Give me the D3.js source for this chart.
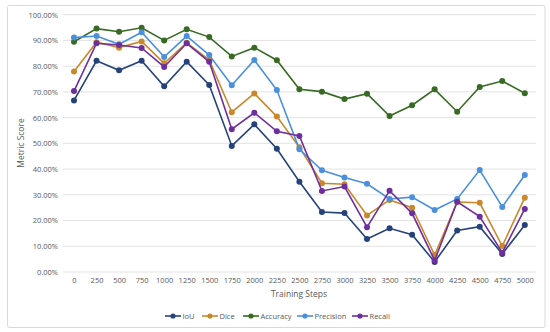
<!DOCTYPE html>
<html><head><meta charset="utf-8">
<script src="https://cdn.jsdelivr.net/npm/d3@7"></script>
<style>body{margin:0;background:#fff}svg{display:block}text{font-family:"Open Sans",Lato,sans-serif}</style>
</head><body><svg id="c" width="550" height="332"></svg>
<script>
const steps = [0,250,500,750,1000,1250,1500,1750,2000,2250,2500,2750,3000,3250,3500,3750,4000,4250,4500,4750,5000];
const iou       = [66.7,82.1,78.4,82.1,72.2,81.7,72.7,49.0,57.4,47.9,35.1,23.3,22.9,12.8,17.0,14.5,3.9,16.1,17.6,7.0,18.3];
const dice      = [77.9,89.3,87.2,89.6,81.1,89.1,82.4,62.1,69.4,60.4,48.5,34.5,34.1,22.0,28.0,25.0,6.6,27.2,26.9,10.1,28.9];
const accuracy  = [89.5,94.6,93.4,94.9,90.0,94.3,91.3,83.8,87.2,82.3,71.0,70.1,67.2,69.3,60.6,64.8,71.0,62.3,71.9,74.2,69.5];
const precision = [91.1,91.7,88.5,93.2,83.6,91.7,84.3,72.6,82.4,70.7,47.7,39.5,36.7,34.3,28.4,29.1,24.1,28.4,39.6,25.3,37.7];
const recall    = [70.3,88.9,88.2,87.1,79.7,88.9,81.7,55.5,61.9,54.7,52.9,31.5,33.2,17.4,31.6,22.8,4.5,27.3,21.5,7.5,24.5];
const yTicks = [0,10,20,30,40,50,60,70,80,90,100];
const seriesNames = ["IoU","Dice","Accuracy","Precision","Recall"];
const seriesColors = ["#25427a","#c9882c","#386a24","#4a90dc","#6e2f9e"];
const seriesData = [iou,dice,accuracy,precision,recall];

const svg = d3.select("#c");
svg.append("rect").attr("x",7.5).attr("y",5.5).attr("width",537.5).attr("height",322).attr("rx",2)
  .attr("fill","#fff").attr("stroke","#d9d9d9");

const x = d3.scalePoint().domain(steps).range([74,524.8]);
const y = d3.scaleLinear().domain([0,100]).range([272,14.7]);

// grid
svg.append("g").selectAll("line").data(yTicks).join("line")
  .attr("x1",63).attr("x2",536).attr("y1",d=>y(d)).attr("y2",d=>y(d))
  .attr("stroke","#e3e3e3").attr("stroke-width",1);

const yAxis = svg.append("g").attr("transform","translate(58,0)")
  .call(d3.axisLeft(y).tickValues(yTicks).tickFormat(d=>d.toFixed(2)+"%").tickSize(0).tickPadding(0));
yAxis.select(".domain").remove();
yAxis.selectAll("text").attr("fill","#595959").style("font-size","7.5px");

const xAxis = svg.append("g").attr("transform","translate(0,276)")
  .call(d3.axisBottom(x).tickSize(0).tickPadding(2));
xAxis.select(".domain").remove();
xAxis.selectAll("text").attr("fill","#595959").style("font-size","7.5px");

svg.append("text").attr("x",299).attr("y",297).attr("text-anchor","middle")
  .attr("fill","#595959").style("font-size","8.5px").text("Training Steps");
svg.append("text").attr("transform","translate(24,143) rotate(-90)").attr("text-anchor","middle")
  .attr("fill","#595959").style("font-size","8.5px").text("Metric Score");

const line = d3.line().x((d,i)=>x(steps[i])).y(d=>y(d));
seriesData.forEach((data,k)=>{
  const g = svg.append("g");
  g.append("path").attr("d",line(data)).attr("fill","none").attr("stroke",seriesColors[k]).attr("stroke-width",1.6);
  g.selectAll("circle").data(data).join("circle")
    .attr("cx",(d,i)=>x(steps[i])).attr("cy",d=>y(d)).attr("r",3).attr("fill",seriesColors[k]);
});

// legend
const legX = [165,202,243,297,352];
const leg = svg.append("g");
seriesNames.forEach((n,k)=>{
  const g = leg.append("g").attr("transform",`translate(${legX[k]},316)`);
  g.append("line").attr("x1",0).attr("x2",16).attr("stroke",seriesColors[k]).attr("stroke-width",1.6);
  g.append("circle").attr("cx",8).attr("r",2.6).attr("fill",seriesColors[k]);
  g.append("text").attr("x",17.5).attr("y",2.7).attr("fill","#595959").style("font-size","7.5px").text(n);
});
</script></body></html>
